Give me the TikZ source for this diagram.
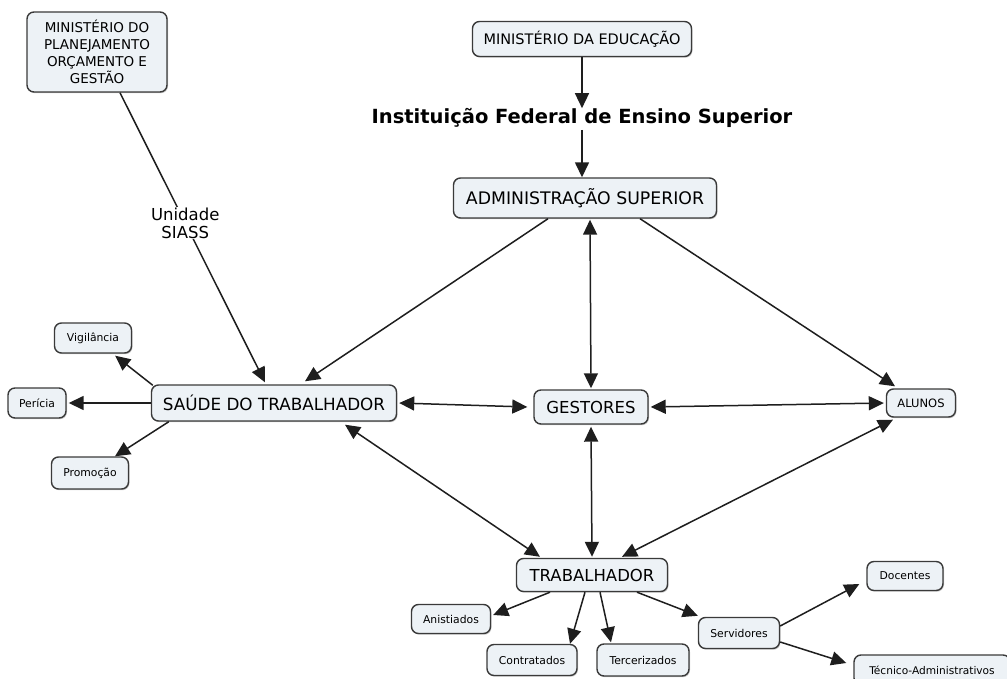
\documentclass[tikz,border=0pt]{standalone}
\usepackage{fontspec}
\setmainfont{DejaVu Sans}
\usetikzlibrary{arrows.meta,shadows}
\definecolor{boxfill}{HTML}{EDF2F6}
\definecolor{boxline}{HTML}{3A3A3A}
\definecolor{linkline}{HTML}{1E1E1E}
\begin{document}
\begin{tikzpicture}[x=1pt,y=-1pt,
  concept/.style={draw=boxline,fill=boxfill,line width=1.4pt,rounded corners=7pt,
    inner sep=0pt,align=center,
    drop shadow={shadow xshift=1pt,shadow yshift=-1.2pt,fill=gray!55,opacity=.8}},
  big/.style={concept,font=\fontsize{16.8}{20}\selectfont},
  mid/.style={concept,font=\fontsize{16.5}{20}\selectfont},
  small/.style={concept,font=\fontsize{10.8}{13}\selectfont},
  link/.style={draw=linkline,line width=1.5pt},
  tip/.style={-{Triangle[length=15pt,width=14pt]}},
  both/.style={{Triangle[length=15pt,width=14pt]}-{Triangle[length=15pt,width=14pt]}}
]
\useasboundingbox (0,0) rectangle (1007,679);

% concepts
\node[concept,font=\fontsize{13.5}{17}\selectfont,minimum width=140pt,minimum height=80pt]
  (mpog) at (97,52) {MINISTÉRIO DO\\PLANEJAMENTO\\ORÇAMENTO E\\GESTÃO};
\node[concept,font=\fontsize{14.5}{17}\selectfont,minimum width=219pt,minimum height=35pt]
  (mec) at (582,39) {MINISTÉRIO DA EDUCAÇÃO};
\node[font=\bfseries\fontsize{19.5}{22}\selectfont,inner sep=2pt] (inst) at (582,118)
  {Instituição Federal de Ensino Superior};
\node[mid,font=\fontsize{17.3}{20}\selectfont,minimum width=263pt,minimum height=40pt] (adm) at (585,198) {ADMINISTRAÇÃO SUPERIOR};
\node[big,minimum width=245pt,minimum height=36pt] (sau) at (274,403) {SAÚDE DO TRABALHADOR};
\node[mid,minimum width=114pt,minimum height=34pt] (ges) at (591,407) {GESTORES};
\node[small,font=\fontsize{11.5}{13}\selectfont,minimum width=69pt,minimum height=28pt] (alu) at (921,403) {ALUNOS};
\node[mid,minimum width=151pt,minimum height=33pt] (trab) at (592,575) {TRABALHADOR};

\node[small,minimum width=77pt,minimum height=30pt] (vig) at (93,338) {Vigilância};
\node[small,minimum width=58pt,minimum height=30pt] (per) at (37,403) {Perícia};
\node[small,minimum width=77pt,minimum height=32pt] (pro) at (90,473) {Promoção};

\node[small,minimum width=79pt,minimum height=29pt] (ani) at (451,619) {Anistiados};
\node[small,minimum width=90pt,minimum height=31pt] (con) at (532,660) {Contratados};
\node[small,minimum width=92pt,minimum height=32pt] (ter) at (643,660) {Tercerizados};
\node[small,minimum width=81pt,minimum height=31pt] (ser) at (739,633) {Servidores};
\node[small,minimum width=76pt,minimum height=29pt] (doc) at (905,576) {Docentes};
\node[small,font=\fontsize{10.6}{13}\selectfont,minimum width=156pt,minimum height=30pt] (tec) at (932,670) {Técnico-Administrativos};

% links
\draw[link,tip] ([xshift=23pt]mpog.south) -- ([xshift=-9pt,yshift=2pt]sau.north)
  node[pos=0.45,fill=white,inner sep=1pt,align=center,font=\fontsize{16.5}{18}\selectfont]
  {Unidade\\SIASS};
\draw[link,tip] (mec.south) -- ([yshift=-2pt]inst.north);
\draw[link,tip] (inst.south) -- (inst.south |- adm.north);

\draw[link,tip] ([xshift=-37pt]adm.south) -- ([xshift=31pt,yshift=3pt]sau.north);
\draw[link,both] ([xshift=5pt,yshift=-1pt]adm.south) -- ([yshift=1pt]ges.north);
\draw[link,tip] ([xshift=55pt]adm.south) -- ([xshift=-26pt,yshift=2pt]alu.north);

\draw[link,both] ([xshift=2pt]sau.east) -- ([xshift=-6pt]ges.west);
\draw[link,both] ([xshift=2pt]ges.east) -- ([xshift=-2pt]alu.west);

\draw[link,both] ([xshift=71pt,yshift=-3pt]sau.south) -- ([xshift=-52pt,yshift=1pt]trab.north);
\draw[link,both] ([yshift=-2pt]ges.south) -- ([yshift=1pt]trab.north);
\draw[link,both] ([xshift=-28pt,yshift=-2pt]alu.south) -- ([xshift=30pt,yshift=1pt]trab.north);

\draw[link,tip] ([xshift=2pt,yshift=-1pt]sau.north west) -- ([xshift=-17pt,yshift=-2pt]vig.south east);
\draw[link,tip] (sau.west) -- ([xshift=2pt]per.east);
\draw[link,tip] ([xshift=18pt]sau.south west) -- ([xshift=25pt]pro.north);

\draw[link,tip] ([xshift=-42pt]trab.south) -- ([xshift=2pt,yshift=4pt]ani.east);
\draw[link,tip] ([xshift=-7pt]trab.south) -- ([xshift=38pt]con.north);
\draw[link,tip] ([xshift=8pt]trab.south) -- ([xshift=-32pt,yshift=1pt]ter.north);
\draw[link,tip] ([xshift=45pt]trab.south) -- ([yshift=1pt]ser.north west);
\draw[link,tip] ([yshift=7pt]ser.east) -- ([xshift=-7pt,yshift=-8pt]doc.west);
\draw[link,tip] ([yshift=-9pt]ser.east) -- ([xshift=-7pt,yshift=7pt]tec.west);
\end{tikzpicture}
\end{document}
